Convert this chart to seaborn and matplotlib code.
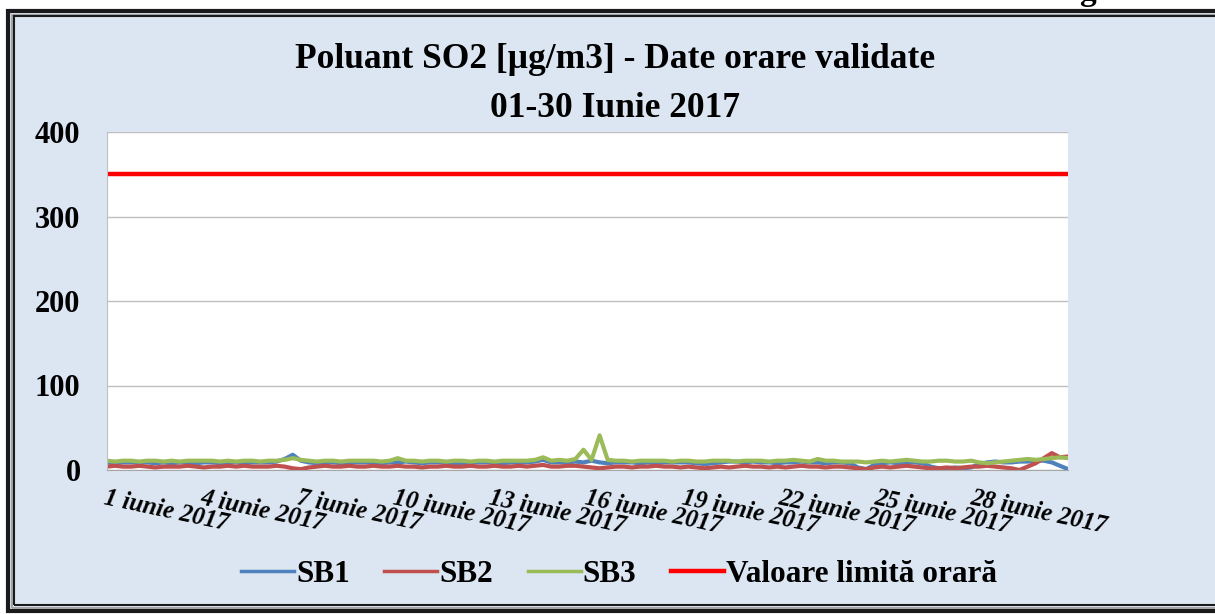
import pandas as pd
import matplotlib.pyplot as plt
import seaborn as sns
from matplotlib.patches import Rectangle
from matplotlib.lines import Line2D

# hourly SO2 values, one value every 6 hours (4 per day, 1-30 June)
sb1 = [9, 8, 9, 9,   9, 9, 8, 9,   8, 9, 9, 8,   9, 9, 8, 9,   9, 8, 9, 9,
       9, 10, 13, 18, 11, 9, 8, 9,  9, 8, 9, 9,   9, 9, 8, 9,   9, 10, 9, 8,
       9, 9, 9, 8,   8, 9, 9, 9,   9, 8, 9, 9,   9, 10, 12, 9,  9, 9, 10, 9,
       11, 9, 8, 9,  9, 9, 8, 9,   8, 9, 9, 9,   9, 8, 7, 8,   9, 10, 10, 9,
       10, 9, 9, 8,  9, 9, 10, 9,  9, 8, 9, 9,   8, 3, 1, 6,   8, 9, 8, 9,
       9, 8, 4, 2,   2, 3, 2, 3,   7, 9, 10, 9,  9, 10, 10, 11, 11, 9, 5, 1]
sb2 = [4, 5, 4, 4,   5, 4, 3, 4,   4, 4, 5, 4,   3, 4, 4, 5,   4, 5, 4, 4,
       4, 5, 4, 2,   1, 3, 4, 5,   4, 4, 5, 4,   4, 5, 4, 4,   5, 4, 4, 3,
       4, 4, 5, 4,   4, 5, 4, 4,   5, 4, 4, 5,   4, 5, 6, 4,   4, 5, 5, 4,
       3, 2, 3, 4,   4, 3, 4, 4,   5, 4, 4, 3,   4, 3, 2, 3,   4, 3, 4, 5,
       4, 4, 3, 4,   3, 4, 5, 4,   4, 3, 4, 4,   3, 2, 1, 3,   4, 3, 4, 5,
       4, 3, 2, 2,   3, 2, 3, 4,   4, 5, 4, 3,   2, 0, 4, 8,   14, 20, 15, 16]
sb3 = [11, 10, 11, 11, 10, 11, 11, 10, 11, 10, 11, 11, 11, 11, 10, 11, 10, 11, 11, 10,
       11, 11, 12, 14, 12, 11, 10, 11, 11, 10, 11, 11, 11, 11, 10, 11, 14, 11, 11, 10,
       11, 11, 10, 11, 11, 10, 11, 11, 10, 11, 11, 11, 11, 12, 15, 11, 12, 11, 13, 24,
       12, 41, 12, 11, 11, 10, 11, 11, 11, 11, 10, 11, 11, 10, 10, 11, 11, 11, 10, 11,
       11, 11, 10, 11, 11, 12, 11, 10, 13, 11, 11, 10, 10, 10, 9, 10, 11, 10, 11, 12,
       11, 10, 10, 11, 11, 10, 10, 11, 9, 8, 9, 10, 11, 12, 13, 12, 13, 14, 15, 14]
limit_value = 350

stations = ["SB1", "SB2", "SB3"]
colors = {"SB1": "#4F81BD", "SB2": "#C0504D", "SB3": "#9BBB59"}
limit_label = "Valoare limită orară"
tick_days = [1, 4, 7, 10, 13, 16, 19, 22, 25, 28]

dates = pd.date_range("2017-06-01 00:00", "2017-06-30 23:00", periods=len(sb1))
df = pd.DataFrame({"data": dates, "SB1": sb1, "SB2": sb2, "SB3": sb3})
long_df = df.melt(id_vars="data", var_name="statie", value_name="SO2")
lim_df = pd.DataFrame({"data": dates, "SO2": [limit_value] * len(dates)})

plt.rcParams["font.family"] = ["Liberation Serif", "DejaVu Serif"]
plt.rcParams["font.weight"] = "bold"

W, H = 1215, 614
fig = plt.figure(figsize=(12.15, 6.14), dpi=100, facecolor="white")

# chart frame (double border, light blue fill) -- behind the axes
fig.patches.append(Rectangle((8 / W, 3 / H), 1.05, 600 / H, transform=fig.transFigure,
                             facecolor="#DCE6F2", edgecolor="#1a1a1a", lw=3, zorder=-2))
fig.patches.append(Rectangle((11.5 / W, 6.5 / H), 1.05, 593 / H, transform=fig.transFigure,
                             facecolor="none", edgecolor="#999999", lw=1.2, zorder=-2))
fig.patches.append(Rectangle((14 / W, 9 / H), 1.05, 589 / H, transform=fig.transFigure,
                             facecolor="none", edgecolor="#1a1a1a", lw=1.5, zorder=-2))

ax = fig.add_axes([107 / W, 1 - 470 / H, 961 / W, 338 / H])
ax.set_facecolor("white")

sns.lineplot(data=long_df, x="data", y="SO2", hue="statie", hue_order=stations,
             palette=colors, lw=3, ax=ax, legend=False)
sns.lineplot(data=lim_df, x="data", y="SO2", color="#FF0000", lw=3.2, ax=ax, legend=False)

ax.set_xlim(pd.Timestamp("2017-06-01 00:00"), pd.Timestamp("2017-06-30 23:00"))
ax.set_ylim(0, 400)
ax.set_yticks([0, 100, 200, 300, 400])
ax.grid(axis="y", color="#BFBFBF", lw=1)
ax.grid(axis="x", visible=False)
ax.set_axisbelow(True)
for s in ["top", "right"]:
    ax.spines[s].set_visible(False)
ax.spines["left"].set_color("#BFBFBF")
ax.spines["bottom"].set_color("#A6A6A6")
ax.set_xlabel("")
ax.set_ylabel("")

ax.set_xticks([pd.Timestamp(2017, 6, d) for d in tick_days])
ax.set_xticklabels([f"{d} iunie 2017" for d in tick_days], rotation=-12, ha="left", va="top",
                   rotation_mode="anchor", fontsize=17.8, fontweight="bold", style="italic")
ax.tick_params(axis="x", length=0, pad=12)
ax.tick_params(axis="y", length=0, pad=19, labelsize=22)

fig.text(615 / W, 1 - 68 / H, "Poluant SO2 [µg/m3] - Date orare validate", ha="center",
         va="baseline", fontsize=25.5, fontweight="bold")
fig.text(615 / W, 1 - 117 / H, "01-30 Iunie 2017", ha="center", va="baseline",
         fontsize=25.5, fontweight="bold")

# cut-off letter from the page above the chart
fig.text(1087 / W, 1.0, "g", ha="center", va="baseline", fontsize=24)

handles = [Line2D([], [], color=colors[s], lw=2.5) for s in stations]
handles.append(Line2D([], [], color="#FF0000", lw=3.2))
fig.legend(handles=handles, labels=stations + [limit_label], loc="center",
           bbox_to_anchor=(619 / W, 1 - 574 / H), ncol=4, frameon=False,
           fontsize=22.5, handlelength=1.7, handletextpad=0.07, columnspacing=1.1)

plt.savefig("out.png", dpi=100, facecolor="white")
